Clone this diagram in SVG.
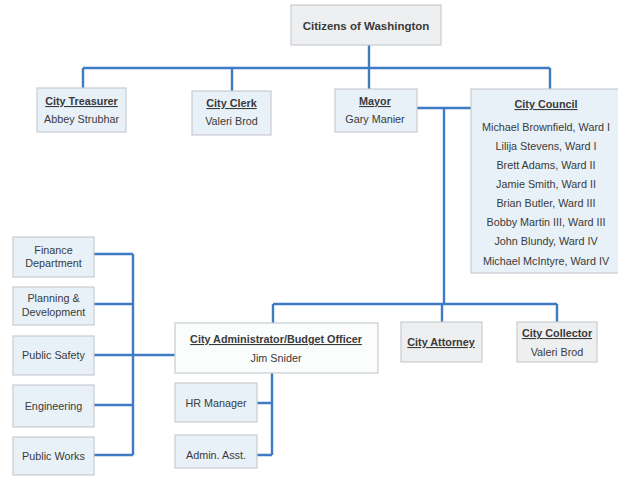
<svg xmlns="http://www.w3.org/2000/svg" width="618" height="479" viewBox="0 0 618 479">
<style>
.bx{fill:#e8f1f8;stroke:#c9ccd0;stroke-width:1.2}
.gy{fill:#eeeff0;stroke:#c9ccd0;stroke-width:1.2}
.wh{fill:#fbfcfc;stroke:#c9ccd0;stroke-width:1.2}
text{font-family:"Liberation Sans",Arial,sans-serif;fill:#3a3a3a;text-anchor:middle;font-size:10.8px}
.t{font-weight:bold;text-decoration:underline}
.c{stroke:#3d7cc4;stroke-width:2.4;fill:none}
</style>
<rect width="618" height="479" fill="#ffffff"/>
<g id="connectors">
<path class="c" d="M369 45V68M83 68H550M83 68V88M232 68V91M369 68V89M550 68V89"/>
<path class="c" d="M417 108H471M444 108V304M273 304H557M273 304V323M442 304V322M557 304V322"/>
<path class="c" d="M94 254H133M94 304H133M94 355H175M94 405H133M94 455H133M133 254V455"/>
<path class="c" d="M272 373V455M257 403H272M257 455H272"/>
</g>
<g id="citizens"><rect class="gy" x="291" y="5" width="150" height="40"/><text class="t" x="366" y="30" style="text-decoration:none;font-size:11.5px">Citizens of Washington</text></g>
<g id="treasurer"><rect class="bx" x="37" y="88" width="89" height="44"/><text class="t" x="81.5" y="105">City Treasurer</text><text x="81.5" y="123">Abbey Strubhar</text></g>
<g id="clerk"><rect class="bx" x="192" y="91" width="79" height="44"/><text class="t" x="231.5" y="107">City Clerk</text><text x="231.5" y="125">Valeri Brod</text></g>
<g id="mayor"><rect class="bx" x="335" y="89" width="82" height="43"/><text class="t" x="375" y="105">Mayor</text><text x="375" y="123">Gary Manier</text></g>
<g id="council"><rect class="bx" x="471" y="89" width="150" height="184"/>
<text class="t" x="546" y="108">City Council</text>
<text x="546" y="131">Michael Brownfield, Ward I</text>
<text x="546" y="150">Lilija Stevens, Ward I</text>
<text x="546" y="169">Brett Adams, Ward II</text>
<text x="546" y="188">Jamie Smith, Ward II</text>
<text x="546" y="207">Brian Butler, Ward III</text>
<text x="546" y="226">Bobby Martin III, Ward III</text>
<text x="546" y="245">John Blundy, Ward IV</text>
<text x="546" y="265">Michael McIntyre, Ward IV</text></g>
<g id="finance"><rect class="bx" x="13" y="237" width="81" height="40"/><text x="53.5" y="254">Finance</text><text x="53.5" y="267">Department</text></g>
<g id="planning"><rect class="bx" x="13" y="287" width="81" height="38"/><text x="53.5" y="302">Planning &amp;</text><text x="53.5" y="316">Development</text></g>
<g id="safety"><rect class="bx" x="13" y="336" width="81" height="39"/><text x="53.5" y="359">Public Safety</text></g>
<g id="engineering"><rect class="bx" x="13" y="385" width="81" height="42"/><text x="53.5" y="410">Engineering</text></g>
<g id="works"><rect class="bx" x="13" y="437" width="81" height="38"/><text x="53.5" y="460">Public Works</text></g>
<g id="administrator"><rect class="wh" x="175" y="323" width="203" height="50"/><text class="t" x="276" y="343">City Administrator/Budget Officer</text><text x="276" y="362">Jim Snider</text></g>
<g id="attorney"><rect class="gy" x="401" y="322" width="81" height="40"/><text class="t" x="441" y="346">City Attorney</text></g>
<g id="collector"><rect class="gy" x="517" y="322" width="80" height="40"/><text class="t" x="557" y="337">City Collector</text><text x="557" y="356">Valeri Brod</text></g>
<g id="hr"><rect class="bx" x="175" y="383" width="82" height="39"/><text x="216" y="407">HR Manager</text></g>
<g id="asst"><rect class="bx" x="175" y="435" width="82" height="33"/><text x="216" y="459">Admin. Asst.</text></g>
</svg>
